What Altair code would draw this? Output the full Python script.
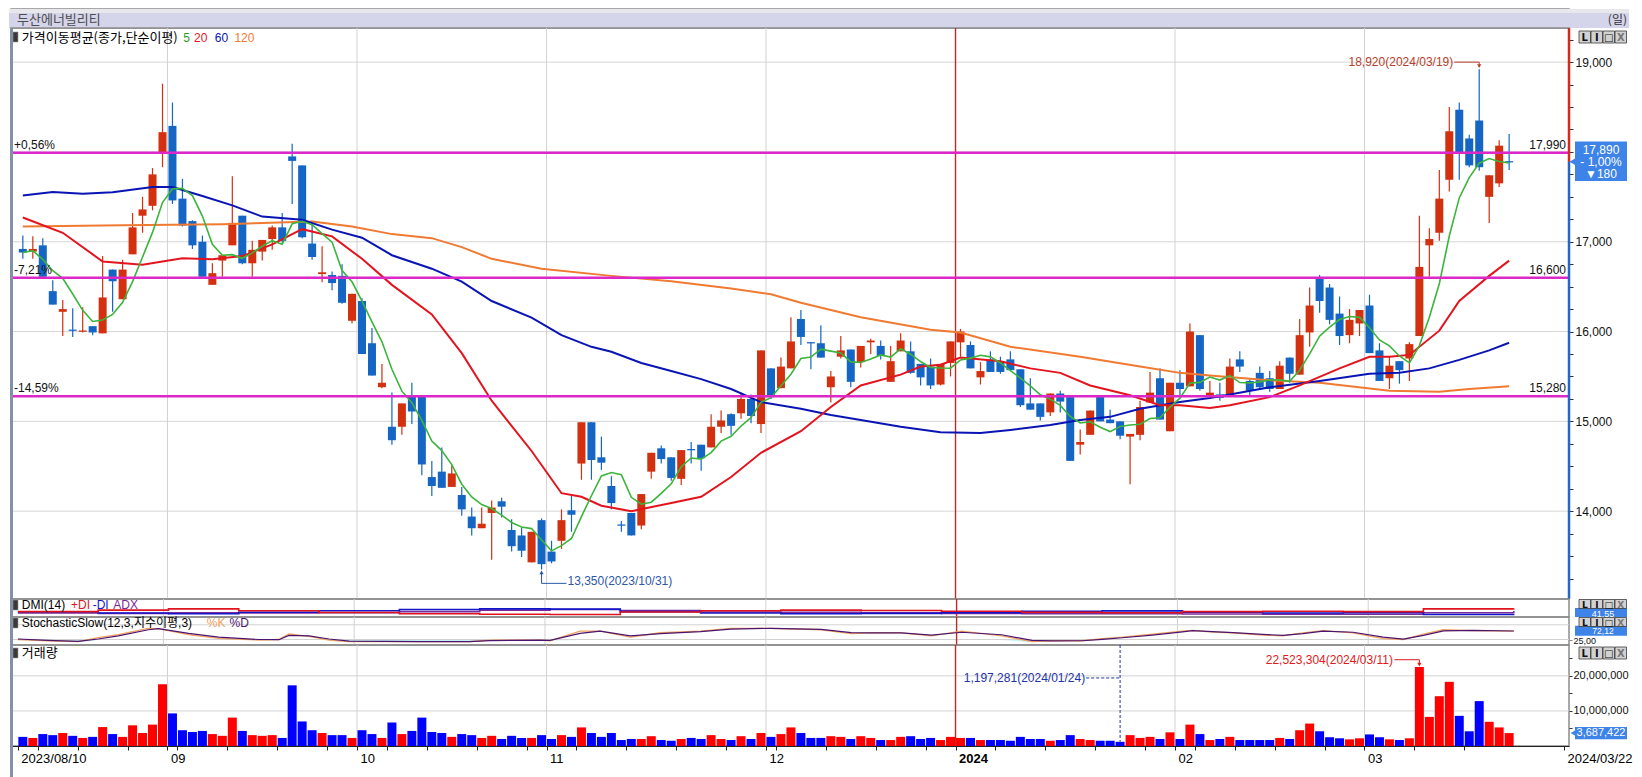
import altair as alt
import pandas as pd
import numpy as np

# ---------------- data ----------------
opens = [16920,16890,16960,16450,16220,16020,16000,16060,15980,16690,
         16360,16860,17290,17400,17990,18290,17480,17230,17000,16520,
         16790,16960,17290,16760,16890,17030,17160,17950,17850,16980,
         16640,16630,16620,16120,16340,15870,15380,14940,14940,15290,
         15290,14380,14440,14270,14180,13940,13810,13980,14110,13790,
         13730,13430,13900,13550,13670,14010,14530,14990,14600,14280,
         13850,13980,13840,14440,14700,14600,14360,14690,14740,14710,
         14940,15080,15090,15250,14970,15590,15370,15590,16140,15880,
         15870,15380,15720,15800,15660,15880,15840,15440,15780,15780,
         15640,15610,15410,15650,15880,15850,15490,15690,15670,15690,
         15580,15200,15200,15100,15310,15270,14740,14850,15270,15020,
         15000,14830,14850,15210,15480,14890,15430,15390,15960,15270,
         15300,15290,15690,15450,15540,15480,15360,15710,15520,15990,
         16590,16490,16200,15960,16090,16290,15790,15480,15670,15700,
         15950,16960,17100,17690,18470,18150,18350,17500,17650,17890]
highs = [17070,17060,17040,16570,16350,16260,16270,16060,16840,16690,
         16800,17320,17500,17820,18760,18550,17700,17240,17070,16760,
         16850,17730,17290,17010,17020,17180,17320,18090,17850,17210,
         16950,16670,16750,16420,16370,16040,15640,15320,15200,15430,
         15290,14560,14710,14510,14270,14040,14040,14120,14150,13910,
         13820,13770,13920,13670,14020,14170,14990,14990,14830,14390,
         13890,13980,14190,14650,14730,14600,14680,14770,14740,15080,
         15120,15090,15320,15300,15790,15590,15710,16160,16240,15880,
         16070,15560,15950,15800,15840,15920,15900,15840,15980,15890,
         15640,15700,15640,15890,16030,15890,15660,15780,15720,15780,
         15580,15480,15200,15310,15340,15270,14910,15120,15270,15130,
         15000,14860,15230,15550,15590,15430,15570,16090,15960,15450,
         15430,15700,15780,15470,15610,15560,15670,15710,16140,16490,
         16630,16530,16390,16250,16240,16410,15870,15720,15670,15880,
         17290,17150,17800,18500,18550,18190,18920,17740,18130,18200]
lows = [16810,16810,16610,16300,15950,15940,15990,15960,15980,16220,
        16360,16860,17100,17350,17830,17420,17170,16920,16610,16520,
        16610,16960,16750,16610,16790,16910,16990,17420,17040,16800,
        16550,16460,16310,16090,15750,15510,15370,14740,14850,14970,
        14400,14170,14260,14270,13950,13730,13810,13460,13930,13550,
        13490,13430,13350,13420,13580,13770,14350,14350,14460,14020,
        13770,13730,13800,14360,14530,14340,14290,14530,14450,14710,
        14870,14850,15030,14980,14870,15250,15370,15590,15850,15580,
        15710,15210,15700,15380,15600,15750,15690,15440,15780,15530,
        15400,15360,15400,15500,15720,15590,15410,15550,15530,15570,
        15160,15130,15010,15060,15100,14560,14630,14850,15000,14980,
        14800,14300,14790,15210,15020,14890,15290,15390,15340,15270,
        15230,15290,15550,15290,15360,15330,15360,15430,15520,15830,
        16210,16080,15850,15870,15950,15760,15450,15360,15420,15450,
        15950,16610,17010,17560,17690,17830,17790,17210,17610,17800]
closes = [16880,16920,16610,16300,16250,16010,16010,15990,16380,16560,
          16690,17160,17360,17750,18220,17460,17180,16960,16610,16650,
          16850,17210,16760,16910,17020,17160,17010,17900,17050,16830,
          16660,16540,16320,16420,15750,15510,15430,14790,15200,15110,
          14520,14280,14260,14420,14020,13810,13860,14040,14050,13610,
          13560,13770,13410,13440,13900,13960,14990,14570,14540,14090,
          13840,13730,14190,14650,14580,14370,14680,14680,14590,14940,
          15010,14950,15250,15060,15790,15270,15610,15890,15940,15870,
          15710,15500,15790,15440,15840,15900,15730,15670,15900,15540,
          15490,15400,15640,15890,16000,15590,15560,15550,15550,15570,
          15180,15130,15050,15310,15220,14560,14770,15120,15000,14980,
          14840,14860,15160,15320,15020,15430,15360,16000,15360,15320,
          15260,15610,15610,15340,15380,15360,15620,15530,15960,16290,
          16340,16130,15950,16130,16240,15760,15450,15620,15570,15860,
          16720,17030,17480,18230,17980,17850,17830,17740,18070,17890]
volumes_m = [2.6,2.3,3.4,3.1,3.7,2.9,2.3,2.6,5.4,3.4,
             2.6,5.9,3.7,6.1,17.6,9.3,4.5,4.0,4.3,3.4,
             2.9,8.1,4.3,3.1,2.9,3.1,2.3,17.3,7.0,4.5,
             3.7,3.1,3.1,2.3,4.5,3.4,2.3,6.7,3.4,4.3,
             8.1,4.0,3.7,2.6,3.4,3.1,2.3,2.9,2.0,2.9,
             2.3,2.3,3.1,2.0,3.1,2.6,5.3,3.7,2.6,3.7,
             1.7,2.0,2.0,2.8,1.7,1.5,2.0,2.3,2.0,3.1,
             2.0,1.7,2.8,2.0,3.7,2.6,3.4,5.3,3.7,2.3,
             2.3,2.8,2.6,2.0,2.8,2.3,1.7,1.7,2.6,2.8,
             2.0,2.3,1.7,2.6,2.3,2.3,1.7,1.7,1.7,1.5,
             2.6,2.0,2.0,1.5,1.7,3.1,2.0,1.7,1.5,1.5,
             1.197281,3.1,2.3,2.6,2.0,3.9,2.0,6.1,3.4,1.7,
             2.0,2.6,1.7,1.7,1.7,1.7,2.3,2.0,4.5,6.4,
             4.2,2.5,2.2,1.9,2.2,3.3,2.5,1.9,1.7,2.2,
             22.523304,8.3,14.2,18.3,8.6,4.2,12.8,6.9,5.3,3.687422]

holidays = ["2023-08-15", "2023-09-28", "2023-09-29", "2023-10-02", "2023-10-03",
            "2023-10-09", "2023-12-25", "2023-12-29", "2024-01-01", "2024-02-09",
            "2024-02-12", "2024-03-01"]
month_labels = ["09", "10", "11", "12", "2024", "02", "03"]
first_label = "2023/08/10"
last_label = "2024/03/22"

ma20_i = [0,4,8,12,16,19,22,25,28,31,34,37,41,44,47,51,54,56,58,61,65,68,71,74,78,
          81,84,88,90,92,94,98,101,104,107,111,114,116,119,121,125,128,132,135,137,139,142,144,147,149]
ma20_v = [17270,17100,16780,16745,16815,16805,16840,16970,17140,17060,16810,16520,16190,15760,15230,
          14670,14200,14160,14060,14000,14090,14160,14380,14650,14890,15160,15400,15520,15610,15630,
          15710,15670,15590,15540,15400,15290,15180,15180,15150,15180,15270,15400,15590,15720,15720,
          15740,16010,16340,16620,16790]
ma60_i = [0,3,6,9,13,15,18,21,24,28,31,34,37,41,44,47,51,54,57,59,62,65,68,71,74,78,81,84,88,92,
          96,99,103,106,109,112,116,119,121,125,130,135,138,141,144,147,149]
ma60_v = [17515,17555,17535,17550,17610,17610,17510,17405,17280,17245,17135,17045,16850,16700,16555,
          16340,16155,15960,15830,15775,15650,15560,15470,15360,15215,15140,15070,15015,14940,14880,
          14870,14905,14960,15015,15050,15140,15215,15260,15300,15380,15450,15530,15540,15590,15685,
          15790,15875]
ma120_i = [0,10,20,29,33,37,41,44,47,52,59,65,71,75,78,84,91,94,99,106,112,116,119,124,130,137,142,145,149]
ma120_v = [17170,17185,17195,17225,17170,17085,17040,16940,16810,16700,16620,16560,16480,16415,16320,
           16160,16020,15990,15830,15720,15610,15540,15510,15465,15430,15340,15330,15360,15390]

stoch_i = [0,3,6,8,10,13,14,17,20,24,26,27,29,31,33,40,45,47,52,53,56,58,61,64,68,71,75,80,83,85,
           88,91,94,98,101,103,106,108,110,113,116,117,119,121,124,126,128,130,133,136,138,140,142,145,149]
stoch_k = [25,17,13,36,53,88,86,53,31,22,25,57,43,22,13,13,13,22,22,18,72,72,38,63,72,88,88,80,58,63,
           62,46,72,46,13,18,18,30,38,55,72,77,67,63,50,46,63,75,63,30,25,55,80,75,72]
stoch_d = [28,20,15,28,45,80,86,60,38,25,24,48,46,28,16,13,13,19,22,20,60,72,46,58,70,84,88,82,64,62,
           62,50,66,52,20,17,18,26,35,50,68,75,70,64,54,48,58,72,66,38,27,48,74,76,73]

dmi_i = [0,8,15,22,30,38,46,53,60,68,76,84,92,100,108,116,124,132,140,149]
plus_di = [30,38,45,35,25,18,15,14,28,35,38,36,32,26,24,30,32,30,45,47]
minus_di = [28,22,18,26,35,42,45,44,30,22,18,20,24,32,34,26,22,24,14,15]
adx = [22,20,24,22,24,30,38,42,36,28,26,24,20,18,18,17,16,15,24,33]

grid_prices = [14000, 15000, 16000, 17000, 18000, 19000]
axis_price_labels = [14000, 15000, 16000, 17000, 19000]
level_prices = [17990, 16600, 15280]
level_pct = ["+0,56%", "-7,21%", "-14,59%"]
level_text = ["17,990", "16,600", "15,280"]
last_price = 17890
last_badge_lines = ["17,890", "- 1,00%", "▼180"]
hi_ann = {"i": 146, "p": 18920, "t": "18,920(2024/03/19)"}
lo_ann = {"i": 52, "p": 13350, "t": "13,350(2023/10/31)"}
vhi_ann = {"i": 140, "v": 22523304, "t": "22,523,304(2024/03/11)"}
vlo_ann = {"i": 110, "v": 1197281, "t": "1,197,281(2024/01/24)"}
last_volume_text = "3,687,422"
stoch_badge = {"v": 72.12, "t": "72,12"}
dmi_badge = {"v": 20, "t": "41,55"}

# ---------------- layout ----------------
W = 1558
SX = W / 1583.0
H_TITLE, H_MAIN, H_DMI, H_STO, H_VOL = 19, 571, 18, 28, 101
XDOM = [-0.686, 154.5]
PDOM = [13022, 19380]
VDOM = [0, 28.8e6]
SDOM = [-6, 152]
DDOM = [0, 100]
FONT = "Liberation Sans, DejaVu Sans, Noto Sans CJK KR, sans-serif"
KFONT = "Noto Sans CJK KR, sans-serif"
SYM = "DejaVu Sans, sans-serif"

RED_C, BLUE_C = "#d2300f", "#1565c4"
BADGE = "#3d83e8"

n = len(closes)
df = pd.DataFrame({"i": list(range(n)), "o": opens, "h": highs, "l": lows, "c": closes,
                   "v": [x * 1e6 for x in volumes_m]})
bt = df[["o", "c"]].max(axis=1)
bb = df[["o", "c"]].min(axis=1)
mid = (bt + bb) / 2
df["bt"] = np.maximum(bt, mid + 7)
df["bb"] = np.minimum(bb, mid - 7)
df["cc"] = np.where(df["c"] > df["o"], RED_C, BLUE_C)
df["vc"] = np.where(df["c"] >= df["o"], "#ff0000", "#0000ff")
df["ma5"] = df["c"].rolling(5, min_periods=1).mean()

alld = pd.bdate_range("2023-08-10", "2024-03-22")
dates = [d for d in alld if d.strftime("%Y-%m-%d") not in holidays]
month_pos, week_pos = [], []
for k in range(1, min(n, len(dates))):
    if dates[k].month != dates[k - 1].month:
        month_pos.append(k - 0.5)
    elif dates[k].isocalendar()[1] != dates[k - 1].isocalendar()[1]:
        week_pos.append(k - 0.5)
month_labels = month_labels[:len(month_pos)]
mdf = pd.DataFrame({"pos": month_pos, "lab": month_labels})
mdf["col"] = np.where(mdf["lab"] == "2024", "#c0282a", "#d2d2d2")
mdf["w"] = np.where(mdf["lab"] == "2024", 1.4, 1.0)
pos2024 = month_pos[month_labels.index("2024")]

lab_pos = [-0.5] + month_pos + [154.5]
lab_txt = [first_label] + month_labels + [last_label]
xexpr = "".join(f"datum.value == {p} ? '{t}' : " for p, t in zip(lab_pos, lab_txt)) + "''"

one = pd.DataFrame({"a": [0]})


def X(f, axis=None):
    return alt.X(f"{f}:Q", scale=alt.Scale(domain=XDOM, nice=False, zero=False), axis=axis)


PAX = alt.Axis(orient="right", values=list(range(13250, 19251, 250)),
               labelExpr=f"indexof({axis_price_labels}, datum.value) >= 0 ? format(datum.value, ',') : ''",
               grid=False, domain=False, tickSize=4, tickColor="#333", labelFont=FONT,
               labelFontSize=12, labelColor="#111", labelPadding=2, title=None,
               labelOverlap=False, labelFlush=False, labelBound=False)


def YP(f):
    return alt.Y(f"{f}:Q", scale=alt.Scale(domain=PDOM, nice=False, zero=False), axis=PAX)


def vgrid(xfun):
    return alt.Chart(mdf).mark_rule().encode(
        x=xfun("pos"), color=alt.Color("col:N", scale=None),
        strokeWidth=alt.StrokeWidth("w:Q", scale=None))


def label(text, xref, color, y, font=FONT, size=12):
    return alt.Chart(one).mark_text(text=text, align="left", baseline="middle", font=font,
                                    fontSize=size, color=color).encode(
        x=alt.value(xref * SX), y=alt.value(y))


def icon(y0, y1):
    return alt.Chart(one).mark_rect(color="#3a3a3a", stroke="#999", strokeWidth=0.6).encode(
        x=alt.value(2), x2=alt.value(7), y=alt.value(y0), y2=alt.value(y1))


def leftbar():
    return alt.Chart(one).mark_rule(color="#8391a6", strokeWidth=3).encode(
        x=alt.value(0.5), y=alt.value(0), y2=alt.value(2000))


def buttons(y0, y1, size=10):
    out = []
    for k, ch in enumerate(["L", "I", "□", "X"]):
        x0 = W + 10 + k * 12
        out.append(alt.Chart(one).mark_rect(color="#d2d2d2", stroke="#3a3a3a", strokeWidth=0.8).encode(
            x=alt.value(x0), x2=alt.value(x0 + 11.5), y=alt.value(y0), y2=alt.value(y1)))
        out.append(alt.Chart(one).mark_text(text=ch, align="center", baseline="middle", font=SYM,
                                            fontSize=size, fontWeight="bold",
                                            color="#777" if ch == "X" else "#111").encode(
            x=alt.value(x0 + 5.8), y=alt.value((y0 + y1) / 2 + 0.5)))
    return out


# ---------------- title bar ----------------
title_panel = alt.layer(
    alt.Chart(one).mark_rect(color="#e8e8ec").encode(
        x=alt.value(-2), x2=alt.value(W + 60), y=alt.value(0), y2=alt.value(4)),
    alt.Chart(one).mark_rect(color="#d4d4ea").encode(
        x=alt.value(-2), x2=alt.value(W + 60), y=alt.value(4), y2=alt.value(H_TITLE)),
    alt.Chart(one).mark_text(text="두산에너빌리티", align="left", baseline="middle", font=KFONT,
                             fontSize=13, color="#4d4d4d").encode(x=alt.value(6), y=alt.value(11)),
    alt.Chart(one).mark_text(text="(일)", align="right", baseline="middle", font=KFONT,
                             fontSize=12, color="#333").encode(x=alt.value(W + 58), y=alt.value(11)),
).properties(width=W, height=H_TITLE)

# ---------------- main price panel ----------------
hgrid = alt.Chart(pd.DataFrame({"p": grid_prices})).mark_rule(color="#d6d6d6", strokeWidth=1).encode(y=YP("p"))


def ma_line(ii, vv, color, w):
    return alt.Chart(pd.DataFrame({"i": ii, "m": vv})).mark_line(color=color, strokeWidth=w).encode(
        x=X("i"), y=YP("m"))


wick = alt.Chart(df).mark_rule(strokeWidth=1.2).encode(
    x=X("i"), y=YP("l"), y2="h", color=alt.Color("cc:N", scale=None))
body = alt.Chart(df).mark_bar(size=8, strokeWidth=0).encode(
    x=X("i"), y=YP("bb"), y2="bt", color=alt.Color("cc:N", scale=None))
ma5 = alt.Chart(df).mark_line(color="#3cb43c", strokeWidth=1.6).encode(x=X("i"), y=YP("ma5"))

ldf = pd.DataFrame({"p": level_prices, "pct": level_pct, "lab": level_text})
lev = alt.Chart(ldf).mark_rule(color="#dc28c8", strokeWidth=2.5).encode(y=YP("p"))
pct = alt.Chart(ldf).mark_text(align="left", baseline="bottom", dy=-1, font=FONT, fontSize=12,
                               color="#111").encode(x=alt.value(3), y=YP("p"), text="pct:N")
labr = alt.Chart(ldf).mark_text(align="right", baseline="bottom", dy=-1, font=FONT, fontSize=12,
                                color="#111").encode(x=alt.value(W - 3), y=YP("p"), text="lab:N")

HC = "#b8402a"
hi_line = pd.DataFrame({"i": [hi_ann["i"] - 2.5, hi_ann["i"], hi_ann["i"]],
                        "p": [hi_ann["p"] + 80, hi_ann["p"] + 80, hi_ann["p"] + 45], "o": [0, 1, 2]})
hi_l = alt.Chart(hi_line).mark_line(color=HC, strokeWidth=1).encode(x=X("i"), y=YP("p"), order="o:Q")
hi_a = alt.Chart(pd.DataFrame({"i": [hi_ann["i"]], "p": [hi_ann["p"] + 35]})).mark_point(
    shape="triangle-down", filled=True, size=18, color=HC, opacity=1).encode(x=X("i"), y=YP("p"))
hi_t = alt.Chart(pd.DataFrame({"i": [hi_ann["i"] - 2.6], "p": [hi_ann["p"] + 80], "t": [hi_ann["t"]]})).mark_text(
    align="right", baseline="middle", font=FONT, fontSize=12, color=HC).encode(x=X("i"), y=YP("p"), text="t:N")

LC = "#2b57a8"
lo_line = pd.DataFrame({"i": [lo_ann["i"], lo_ann["i"], lo_ann["i"] + 2.5],
                        "p": [lo_ann["p"] - 40, lo_ann["p"] - 154, lo_ann["p"] - 154], "o": [0, 1, 2]})
lo_l = alt.Chart(lo_line).mark_line(color=LC, strokeWidth=1).encode(x=X("i"), y=YP("p"), order="o:Q")
lo_a = alt.Chart(pd.DataFrame({"i": [lo_ann["i"]], "p": [lo_ann["p"] - 32]})).mark_point(
    shape="triangle-up", filled=True, size=18, color=LC, opacity=1).encode(x=X("i"), y=YP("p"))
lo_t = alt.Chart(pd.DataFrame({"i": [lo_ann["i"] + 2.6], "p": [lo_ann["p"] - 154], "t": [lo_ann["t"]]})).mark_text(
    align="left", baseline="middle", dy=-2, font=FONT, fontSize=12, color=LC).encode(x=X("i"), y=YP("p"), text="t:N")

axline = alt.Chart(pd.DataFrame({"p1": [PDOM[1], last_price], "p2": [last_price, PDOM[0]],
                                 "col": ["#d42a1a", "#2166c8"]})).mark_rule(strokeWidth=2.5).encode(
    x=alt.value(W), y=YP("p1"), y2="p2", color=alt.Color("col:N", scale=None))
badge_r = alt.Chart(pd.DataFrame({"a": [last_price + 225], "b": [last_price - 215]})).mark_rect(color=BADGE).encode(
    x=alt.value(W + 6), x2=alt.value(W + 58), y=YP("a"), y2="b")
badge_n = alt.Chart(pd.DataFrame({"p": [last_price]})).mark_point(
    shape="triangle-left", filled=True, size=110, color=BADGE, opacity=1).encode(x=alt.value(W + 5), y=YP("p"))
badge_txt = []
for k, line in enumerate(last_badge_lines):
    badge_txt.append(alt.Chart(pd.DataFrame({"p": [last_price], "t": [line]})).mark_text(
        align="center", baseline="middle", font=FONT, fontSize=12, dy=(k - 1) * 12,
        color="white").encode(x=alt.value(W + 32), y=YP("p"), text="t:N"))

main_layers = [hgrid, vgrid(X),
               wick, body,
               ma_line(ma120_i, ma120_v, "#f07a32", 2.0),
               ma_line(ma60_i, ma60_v, "#0a14b4", 2.0),
               ma_line(ma20_i, ma20_v, "#e4141e", 2.0),
               ma5,
               lev, pct, labr,
               hi_l, hi_a, hi_t, lo_l, lo_a, lo_t,
               leftbar(), icon(4, 14),
               label("가격이동평균(종가,단순이평)", 11, "#000", 9.5, KFONT, 13),
               label("5", 175, "#2ca02c", 9.5), label("20", 186, "#e4141e", 9.5),
               label("60", 207, "#0a14b4", 9.5), label("120", 227, "#f07a32", 9.5),
               axline, badge_r, badge_n] + badge_txt + buttons(3, 15)
main = alt.layer(*main_layers).properties(width=W, height=H_MAIN)

# ---------------- DMI panel ----------------
ddf = pd.DataFrame({"i": dmi_i, "pdi": plus_di, "mdi": minus_di, "adx": adx})


def YD(f):
    return alt.Y(f"{f}:Q", scale=alt.Scale(domain=DDOM, nice=False, zero=False), axis=None)


def dline(f, color):
    return alt.Chart(ddf).mark_line(color=color, strokeWidth=1.6, interpolate="step-after").encode(
        x=X("i"), y=YD(f))


dmi_badge_r = alt.Chart(pd.DataFrame({"a": [dmi_badge["v"] + 30], "b": [0]})).mark_rect(color=BADGE).encode(
    x=alt.value(W + 6), x2=alt.value(W + 58), y=YD("a"), y2="b")
dmi_badge_t = alt.Chart(pd.DataFrame({"p": [dmi_badge["v"]], "t": [dmi_badge["t"]]})).mark_text(
    align="center", baseline="middle", font=FONT, fontSize=9, dy=1, color="white").encode(
    x=alt.value(W + 34), y=YD("p"), text="t:N")
dmi = alt.layer(
    vgrid(X), dline("adx", "#7a2a9a"), dline("mdi", "#1414c8"), dline("pdi", "#e0141e"),
    leftbar(), icon(1, 11),
    label("DMI(14)", 11, "#000", 6), label("+DI", 61, "#e0141e", 6), label("-DI", 83, "#1414c8", 6),
    label("ADX", 104, "#7a2a9a", 6),
    dmi_badge_r, dmi_badge_t, *buttons(0.5, 9.5, 9),
).properties(width=W, height=H_DMI)

# ---------------- Stochastic panel ----------------
sdf = pd.DataFrame({"i": stoch_i, "k": stoch_k, "d": stoch_d})
sdf["lo"] = sdf["k"].clip(upper=20)
sdf["top"] = 20
SAX = alt.Axis(orient="right", values=[25], labelExpr="'25,00'", tickSize=3, labelFontSize=9,
               labelPadding=1, domain=False, grid=False, title=None, labelFont=FONT, labelColor="#111",
               labelBaseline="middle", labelOffset=1)


def YS(f):
    return alt.Y(f"{f}:Q", scale=alt.Scale(domain=SDOM, nice=False, zero=False), axis=SAX)


s_grid = alt.Chart(pd.DataFrame({"p": [25, 108]})).mark_rule(color="#d2d2d2", strokeWidth=1).encode(y=YS("p"))
s_area = alt.Chart(sdf).mark_area(color="#86e6e6", opacity=1).encode(x=X("i"), y=YS("lo"), y2="top")
s_k = alt.Chart(sdf).mark_line(color="#f0a060", strokeWidth=1.3).encode(x=X("i"), y=YS("k"))
s_d = alt.Chart(sdf).mark_line(color="#4b146e", strokeWidth=1.2).encode(x=X("i"), y=YS("d"))
s_badge_r = alt.Chart(pd.DataFrame({"a": [stoch_badge["v"] + 30], "b": [stoch_badge["v"] - 26]})).mark_rect(
    color=BADGE).encode(x=alt.value(W + 6), x2=alt.value(W + 58), y=YS("a"), y2="b")
s_badge_t = alt.Chart(pd.DataFrame({"p": [stoch_badge["v"]], "t": [stoch_badge["t"]]})).mark_text(
    align="center", baseline="middle", font=FONT, fontSize=8.5, dy=-0.5, color="white").encode(
    x=alt.value(W + 34), y=YS("p"), text="t:N")
sto = alt.layer(
    s_grid, vgrid(X), s_area, s_k, s_d,
    leftbar(), icon(1, 11),
    label("StochasticSlow(12,3,지수이평,3)", 11, "#000", 6),
    label("%K", 199, "#f0a060", 6), label("%D", 222, "#4b146e", 6),
    s_badge_r, s_badge_t, *buttons(0.5, 9.5, 9),
).properties(width=W, height=H_STO)

# ---------------- Volume panel ----------------
VAX = alt.Axis(orient="bottom", values=sorted(lab_pos + week_pos), labelExpr=xexpr, grid=False,
               domain=True, domainColor="#222", tickColor="#222", tickSize=4, labelAlign="left",
               labelOffset=3, labelPadding=2, labelFont=FONT, labelFontSize=13, labelColor="#000",
               labelOverlap=False, labelFlush=False, labelBound=False, title=None,
               labelFontWeight={"condition": {"test": f"datum.value == {pos2024}", "value": "bold"},
                                "value": "normal"})
VYAX = alt.Axis(orient="right", values=[5e6, 10e6, 15e6, 20e6, 25e6],
                labelExpr="datum.value == 10000000 || datum.value == 20000000 ? format(datum.value, ',') : ''",
                tickSize=3, labelFontSize=11, labelPadding=1, domain=False, grid=False, title=None,
                labelFont=FONT, labelColor="#111", tickColor="#333")


def XV(f):
    return X(f, VAX)


def YV(f):
    return alt.Y(f"{f}:Q", scale=alt.Scale(domain=VDOM, nice=False, zero=True), axis=VYAX)


v_grid = alt.Chart(pd.DataFrame({"p": [10e6, 20e6]})).mark_rule(color="#d2d2d2", strokeWidth=1).encode(y=YV("p"))
v_bars = alt.Chart(df).mark_bar(size=9, strokeWidth=0).encode(
    x=XV("i"), y=YV("v"), color=alt.Color("vc:N", scale=None))

VHC = "#e01a1a"
vy = 24.6e6
vhi_line = pd.DataFrame({"i": [vhi_ann["i"] - 2.5, vhi_ann["i"], vhi_ann["i"]],
                         "p": [vy, vy, vhi_ann["v"] + 0.9e6], "o": [0, 1, 2]})
vhi_l = alt.Chart(vhi_line).mark_line(color=VHC, strokeWidth=1).encode(x=XV("i"), y=YV("p"), order="o:Q")
vhi_a = alt.Chart(pd.DataFrame({"i": [vhi_ann["i"]], "p": [vhi_ann["v"] + 0.7e6]})).mark_point(
    shape="triangle-down", filled=True, size=18, color=VHC, opacity=1).encode(x=XV("i"), y=YV("p"))
vhi_t = alt.Chart(pd.DataFrame({"i": [vhi_ann["i"] - 2.65], "p": [vy], "t": [vhi_ann["t"]]})).mark_text(
    align="right", baseline="middle", font=FONT, fontSize=12, color=VHC).encode(x=XV("i"), y=YV("p"), text="t:N")

VLC = "#2233a8"
vly = 19.4e6
vlo_h = alt.Chart(pd.DataFrame({"i1": [vlo_ann["i"] - 3.4], "i2": [vlo_ann["i"]], "p": [vly]})).mark_rule(
    color=VLC, strokeWidth=1, strokeDash=[3, 2]).encode(x=XV("i1"), x2="i2", y=YV("p"))
vlo_v = alt.Chart(pd.DataFrame({"i": [vlo_ann["i"]], "p1": [VDOM[1]], "p2": [vlo_ann["v"]]})).mark_rule(
    color=VLC, strokeWidth=1, strokeDash=[3, 2]).encode(x=XV("i"), y=YV("p1"), y2="p2")
vlo_t = alt.Chart(pd.DataFrame({"i": [vlo_ann["i"] - 3.5], "p": [vly], "t": [vlo_ann["t"]]})).mark_text(
    align="right", baseline="middle", font=FONT, fontSize=12, color=VLC).encode(x=XV("i"), y=YV("p"), text="t:N")

vb_v = volumes_m[-1] * 1e6
v_badge_r = alt.Chart(pd.DataFrame({"a": [vb_v + 1.75e6], "b": [vb_v - 1.75e6]})).mark_rect(color=BADGE).encode(
    x=alt.value(W + 6), x2=alt.value(W + 58), y=YV("a"), y2="b")
v_badge_n = alt.Chart(pd.DataFrame({"p": [vb_v]})).mark_point(
    shape="triangle-left", filled=True, size=60, color=BADGE, opacity=1).encode(x=alt.value(W + 5), y=YV("p"))
v_badge_t = alt.Chart(pd.DataFrame({"p": [vb_v], "t": [last_volume_text]})).mark_text(
    align="center", baseline="middle", font=FONT, fontSize=11, color="white").encode(
    x=alt.value(W + 32), y=YV("p"), text="t:N")

vol = alt.layer(
    v_grid, vgrid(XV), v_bars,
    vhi_l, vhi_a, vhi_t, vlo_h, vlo_v, vlo_t,
    leftbar(), icon(3, 13),
    label("거래량", 11, "#000", 8, KFONT, 13),
    v_badge_r, v_badge_n, v_badge_t, *buttons(2, 14),
).properties(width=W, height=H_VOL)

chart = alt.vconcat(title_panel, main, dmi, sto, vol, spacing=0, padding=0, bounds="flush",
                    background="white").resolve_scale(
    x="independent", y="independent").configure_view(stroke="#8c8c8c", strokeWidth=1.5)

chart.save("out.html", embed_options={"renderer": "svg", "actions": False})
